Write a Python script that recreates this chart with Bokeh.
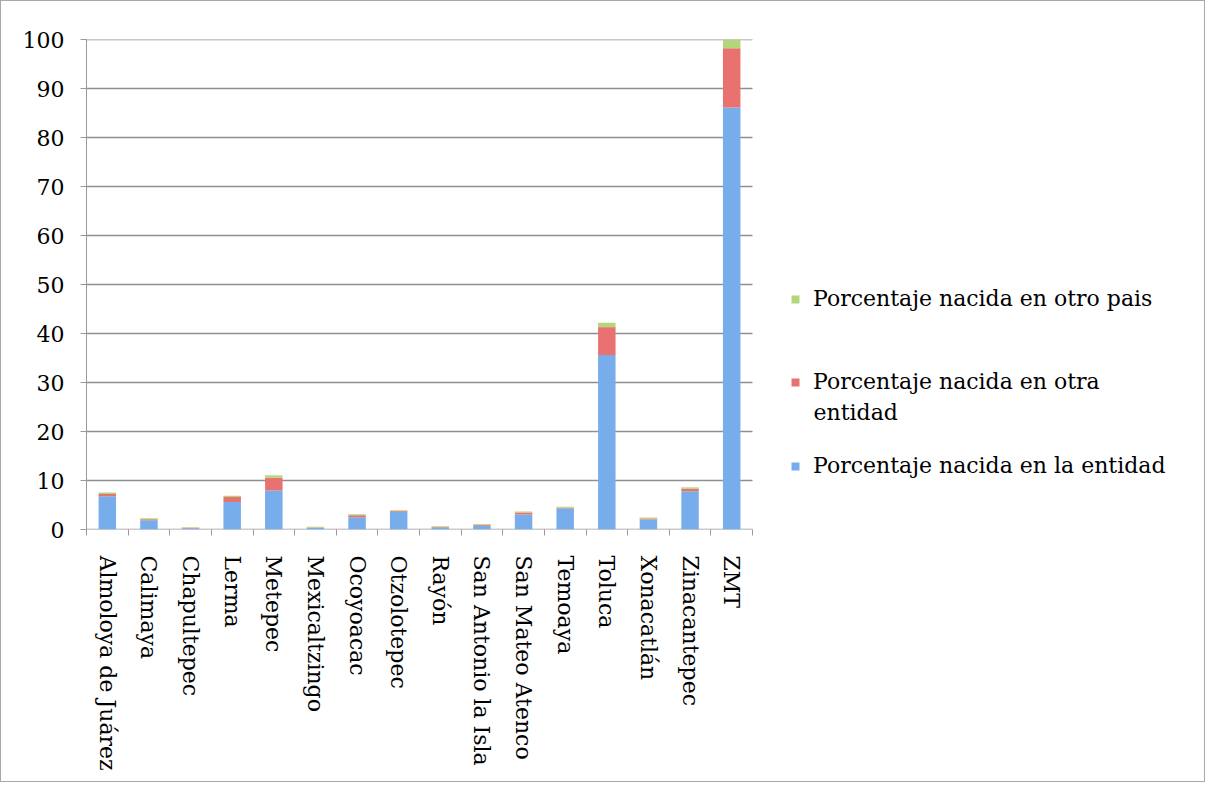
from bokeh.plotting import figure
from bokeh.models import Range1d, FixedTicker, Legend, LegendItem, Label, ColumnDataSource
from bokeh.embed import file_html
from bokeh.resources import INLINE

categories = ["Almoloya de Juárez", "Calimaya", "Chapultepec", "Lerma", "Metepec",
              "Mexicaltzingo", "Ocoyoacac", "Otzolotepec", "Rayón", "San Antonio la Isla",
              "San Mateo Atenco", "Temoaya", "Toluca", "Xonacatlán", "Zinacantepec", "ZMT"]
nacida_entidad = [6.8, 1.9, 0.25, 5.6, 7.95, 0.3, 2.5, 3.6, 0.4, 0.75, 3.05, 4.3, 35.6, 2.05, 7.8, 86.1]
nacida_otra_entidad = [0.45, 0.2, 0.1, 1.05, 2.6, 0.1, 0.4, 0.2, 0.1, 0.2, 0.4, 0.15, 5.7, 0.2, 0.5, 12.1]
nacida_otro_pais = [0.3, 0.2, 0.1, 0.25, 0.5, 0.15, 0.2, 0.15, 0.15, 0.15, 0.2, 0.2, 0.9, 0.2, 0.3, 1.8]
y_ticks = list(range(0, 101, 10))
series_labels = ["Porcentaje nacida en la entidad", "Porcentaje nacida en otra entidad",
                 "Porcentaje nacida en otro pais"]

FONT = "DejaVu Serif"
n = len(categories)
centers = [i + 0.5 for i in range(n)]
bounds = [float(i) for i in range(n + 1)]

# layout (canvas pixels)
W, H = 1205, 782
LEFT, RIGHT_AXIS_END, TOP, BOTTOM = 85, 751, 38, 528
MB_RIGHT = 2
frame_w = W - MB_RIGHT - LEFT
x_end = n * frame_w / (RIGHT_AXIS_END - LEFT)

src = ColumnDataSource(dict(x=centers, a=nacida_entidad, b=nacida_otra_entidad, c=nacida_otro_pais))

p = figure(width=W, height=H, output_backend="svg", toolbar_location=None,
           x_range=Range1d(0, x_end), y_range=Range1d(0, 100),
           min_border_left=LEFT, min_border_right=MB_RIGHT, min_border_top=TOP,
           min_border_bottom=H - BOTTOM)
p.styles = {"border": "1px solid #a8a8a8"}
p.outline_line_color = None
p.background_fill_color = "white"
p.border_fill_color = "white"
p.xgrid.grid_line_color = None
p.ygrid.grid_line_color = None

# gridlines limited to the category area
p.segment(x0=[0] * (len(y_ticks) - 1), x1=[n] * (len(y_ticks) - 1), y0=y_ticks[1:], y1=y_ticks[1:],
          line_color="#8f8f8f", line_width=1.3)
# x axis line limited to the category area
p.segment(x0=[0], x1=[n], y0=[0], y1=[0], line_color="#999999", line_width=1.3)

colors = ["#78ADEB", "#E9716F", "#B4D67A"]
rs = p.vbar_stack(["a", "b", "c"], x="x", width=0.42, source=src, color=colors, line_color=None)

# Y axis
p.yaxis.ticker = FixedTicker(ticks=y_ticks)
p.yaxis.axis_line_color = "#999999"
p.yaxis.major_tick_line_color = "#999999"
p.yaxis.major_tick_out = 6
p.yaxis.major_tick_in = 0
p.yaxis.minor_tick_line_color = None
p.yaxis.major_label_standoff = 16
p.yaxis.major_label_text_font = FONT
p.yaxis.major_label_text_font_size = "22px"
p.yaxis.major_label_text_color = "black"

# X axis
p.xaxis.ticker = FixedTicker(ticks=centers, minor_ticks=bounds)
p.xaxis.major_label_overrides = {c: name for c, name in zip(centers, categories)}
p.xaxis.major_label_orientation = "vertical"
p.xaxis.axis_line_color = None
p.xaxis.major_tick_line_color = None
p.xaxis.major_tick_out = 0
p.xaxis.major_tick_in = 0
p.xaxis.minor_tick_line_color = "#999999"
p.xaxis.minor_tick_out = 6
p.xaxis.minor_tick_in = 0
p.xaxis.major_label_standoff = 20
p.xaxis.major_label_text_font = FONT
p.xaxis.major_label_text_font_size = "22px"
p.xaxis.major_label_text_color = "black"

# Legend entries (green top, red, blue bottom), positioned relative to the frame
def make_legend(label, renderer, loc):
    lg = Legend(items=[LegendItem(label=label, renderers=[renderer])], location=loc,
                orientation="vertical", glyph_width=10, glyph_height=10, label_standoff=13,
                padding=0, margin=0, border_line_color=None, background_fill_alpha=0,
                label_text_font=FONT, label_text_font_size="22px", label_text_color="black")
    p.add_layout(lg, "center")

red_words = series_labels[1].split(" ")
make_legend(series_labels[2], rs[2], (704, 218))
make_legend(" ".join(red_words[:-1]), rs[1], (704, 135))
make_legend(series_labels[0], rs[0], (704, 51))
p.add_layout(Label(x=727, y=117, x_units="screen", y_units="screen", text=red_words[-1],
                   text_font=FONT, text_font_size="22px", text_color="black",
                   text_baseline="middle"))

open("out.html", "w").write(file_html(p, INLINE))
